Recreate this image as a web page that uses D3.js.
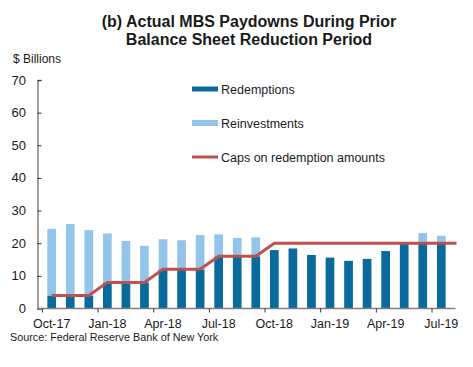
<!DOCTYPE html>
<html>
<head>
<meta charset="utf-8">
<script src="https://cdn.jsdelivr.net/npm/d3@7"></script>
<style>
  body { margin: 0; background: #fff; }
  svg text { font-family: "Liberation Sans", Arial, sans-serif; fill: #1a1a1a; }
</style>
</head>
<body>
<div id="chart"></div>
<script>
var months = ["Oct-17","Nov-17","Dec-17","Jan-18","Feb-18","Mar-18","Apr-18","May-18","Jun-18","Jul-18","Aug-18","Sep-18",
              "Oct-18","Nov-18","Dec-18","Jan-19","Feb-19","Mar-19","Apr-19","May-19","Jun-19","Jul-19"];
var redemptions = [4,4,4,8,8,8,12,12,12,16,16,16,17.9,18.4,16.4,15.6,14.6,15.2,17.6,20,20,20];
var reinvestments = [20.4,21.9,20,15,12.7,11.2,9.2,8.9,10.5,6.7,5.6,5.8,0,0,0,0,0,0,0,0,3.1,2.3];
var caps = [4,4,4,8,8,8,12,12,12,16,16,16,20,20,20,20,20,20,20,20,20,20];
var xTickLabels = ["Oct-17","Jan-18","Apr-18","Jul-18","Oct-18","Jan-19","Apr-19","Jul-19"];
var yTicks = [0,10,20,30,40,50,60,70];

var W = 473, H = 367;
var darkBlue = "#0a6a9c", lightBlue = "#93c4ea", red = "#c0504d", axisCol = "#7f7f7f";

var svg = d3.select("#chart").append("svg")
    .attr("width", W)
    .attr("height", H)

var x = d3.scaleBand().domain(months).range([37.5, 455.5]).padding(0.53)
var y = d3.scaleLinear().domain([0, 70]).range([308.5, 80])

// title
svg.append("text").attr("x", 249).attr("y", 27).attr("text-anchor", "middle")
    .style("font-size", "16px").style("font-weight", "bold")
    .text("(b) Actual MBS Paydowns During Prior")
svg.append("text").attr("x", 249).attr("y", 45).attr("text-anchor", "middle")
    .style("font-size", "16px").style("font-weight", "bold")
    .text("Balance Sheet Reduction Period")

svg.append("text").attr("x", 13).attr("y", 63).style("font-size", "12px").text("$ Billions")

// bars
var g = svg.append("g")
g.selectAll(".red").data(months).enter().append("rect")
    .attr("x", function(d) { return x(d) })
    .attr("width", x.bandwidth())
    .attr("y", function(d, i) { return y(redemptions[i]) })
    .attr("height", function(d, i) { return y(0) - y(redemptions[i]) })
    .attr("fill", darkBlue)
g.selectAll(".rein").data(months).enter().append("rect")
    .attr("x", function(d) { return x(d) })
    .attr("width", x.bandwidth())
    .attr("y", function(d, i) { return y(redemptions[i] + reinvestments[i]) })
    .attr("height", function(d, i) { return y(redemptions[i]) - y(redemptions[i] + reinvestments[i]) })
    .attr("fill", lightBlue)

// caps line
var capPts = months.map(function(m, i) { return [x(m) + x.bandwidth() / 2, y(caps[i])] })
capPts.push([x.range()[1] + 1, y(caps[caps.length - 1])])
svg.append("path")
    .attr("d", d3.line()(capPts))
    .attr("fill", "none")
    .attr("stroke", red)
    .attr("stroke-width", 3)

// y axis
var yAxis = svg.append("g").attr("transform", "translate(37.5,0)")
    .call(d3.axisRight(y).tickValues(yTicks).tickSize(4).tickFormat(""))
yAxis.select(".domain").attr("stroke", axisCol).attr("stroke-width", 1.5)
yAxis.selectAll(".tick line").attr("stroke", "#333")
svg.selectAll(".ylab").data(yTicks).enter().append("text")
    .attr("x", 26).attr("y", function(d) { return y(d) + 4.5 })
    .attr("text-anchor", "end").style("font-size", "13px")
    .text(function(d) { return d })

// x axis
var xAxis = svg.append("g").attr("transform", "translate(0," + y(0) + ")")
xAxis.append("line").attr("x1", 37.5).attr("x2", 455.5).attr("stroke", axisCol).attr("stroke-width", 1.5)
xAxis.selectAll(".xt").data(xTickLabels).enter().append("line")
    .attr("x1", function(d) { return x(d) - x.bandwidth() * x.paddingInner() / (1 - x.paddingInner()) / 2 })
    .attr("x2", function(d) { return x(d) - x.bandwidth() * x.paddingInner() / (1 - x.paddingInner()) / 2 })
    .attr("y1", 0).attr("y2", 4).attr("stroke", "#333")
xAxis.selectAll(".xl").data(xTickLabels).enter().append("text")
    .attr("x", function(d) { return x(d) + x.bandwidth() / 2 })
    .attr("y", 19).attr("text-anchor", "middle").style("font-size", "12.5px")
    .text(function(d) { return d })

svg.append("text").attr("x", 10).attr("y", 341).style("font-size", "10.8px")
    .text("Source: Federal Reserve Bank of New York")

// legend
var legend = [
    {name: "Redemptions", color: darkBlue, h: 5, y: 89},
    {name: "Reinvestments", color: lightBlue, h: 6, y: 123},
    {name: "Caps on redemption amounts", color: red, h: 3, y: 157}
]
var lg = svg.selectAll(".lg").data(legend).enter().append("g")
lg.append("rect").attr("x", 192).attr("width", 26)
    .attr("y", function(d) { return d.y - d.h / 2 }).attr("height", function(d) { return d.h })
    .attr("fill", function(d) { return d.color })
lg.append("text").attr("x", 221).attr("y", function(d) { return d.y + 4.5 })
    .style("font-size", "12.5px").text(function(d) { return d.name })
</script>
</body>
</html>
